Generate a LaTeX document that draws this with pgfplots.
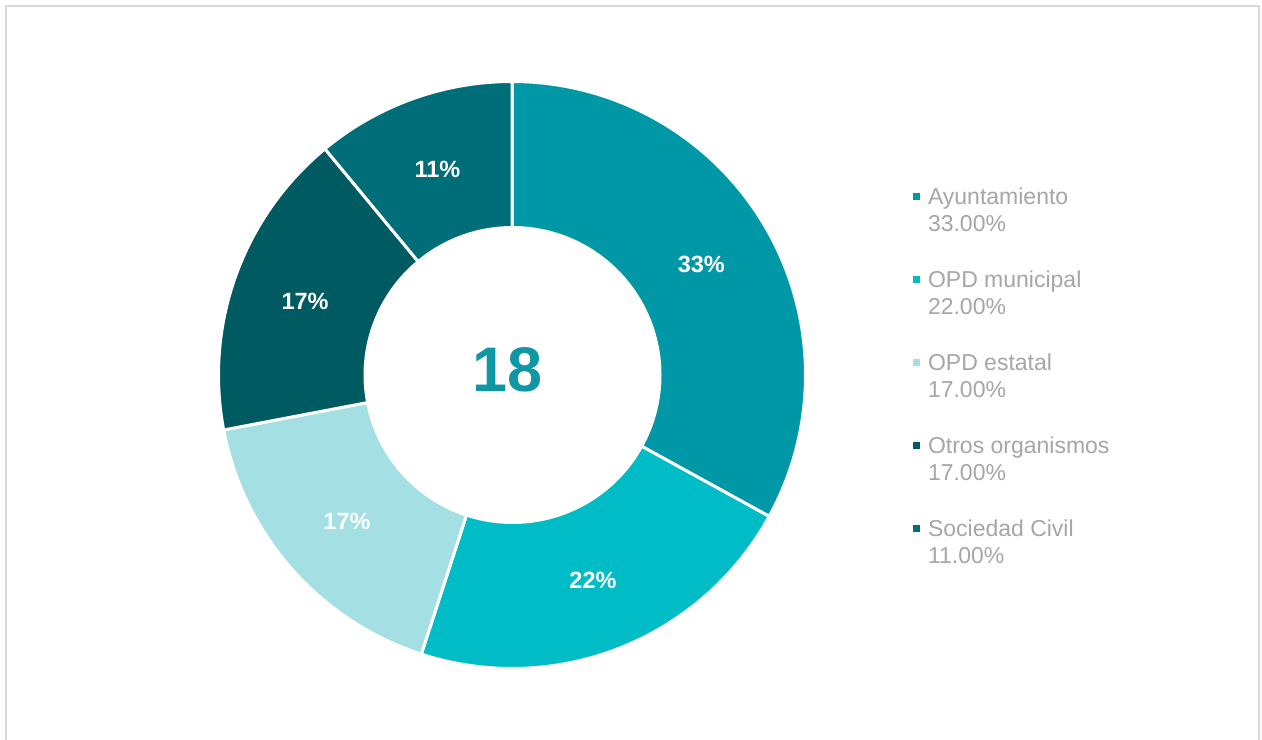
\documentclass[border=0pt]{standalone}
\usepackage{pgfplots}
\usepackage{pgfplotstable}
\pgfplotsset{compat=1.18}
\usepackage{fontspec}
\setmainfont{Liberation Sans}
\definecolor{cA}{HTML}{0098A6}
\definecolor{cB}{HTML}{00BCC6}
\definecolor{cC}{HTML}{A4E0E3}
\definecolor{cD}{HTML}{005A62}
\definecolor{cE}{HTML}{006E78}
\definecolor{centercol}{HTML}{1097A6}
\definecolor{leggray}{HTML}{A6A6A6}
\definecolor{framegray}{HTML}{D9D9D9}
\newcommand\labfont{\fontsize{23.5bp}{27bp}\selectfont\bfseries}
\newcommand\legtab[2]{\begin{tabular}[t]{@{}l@{}}#1\\#2\%\end{tabular}}
\pgfplotstableread[col sep=comma]{
label,value,color
Ayuntamiento,33,cA
OPD municipal,22,cB
OPD estatal,17,cC
Otros organismos,17,cD
Sociedad Civil,11,cE
}\piedata
\begin{document}
\begin{tikzpicture}
\begin{axis}[
  hide axis, scale only axis,
  width=1262bp, height=740bp,
  xmin=0, xmax=1262, ymin=0, ymax=740,
  legend cell align=left,
  legend image code/.code={\fill[#1,draw=none] (0bp,-3.5bp) rectangle (7bp,3.5bp);},
  legend style={draw=none, fill=none, inner sep=0pt, outer sep=0pt,
    at={(axis cs:913,554)}, anchor=north west,
    row sep=62.6bp,
    font=\fontsize{23bp}{27bp}\selectfont, text=leggray,
    nodes={inner sep=0pt, outer sep=0pt},
    /tikz/every odd column/.append style={column sep=8bp}},
]
\addplot[fill=white, draw=none, forget plot] coordinates {(0,0) (1262,0) (1262,740) (0,740)} -- cycle;
\addplot[draw=framegray, line width=2bp, forget plot] coordinates {(6,-20) (6,734) (1259,734) (1259,-20)};
\pgfmathsetmacro\start{90}
\pgfplotsforeachungrouped \i in {0,...,4}{
  \pgfplotstablegetelem{\i}{value}\of\piedata \let\wval\pgfplotsretval
  \pgfplotstablegetelem{\i}{color}\of\piedata \let\wcol\pgfplotsretval
  \pgfplotstablegetelem{\i}{label}\of\piedata \let\wlab\pgfplotsretval
  \pgfmathsetmacro\stop{\start-3.6*\wval}
  \pgfmathsetmacro\mid{(\start+\stop)/2}
  \pgfmathsetmacro\lx{512+220*cos(\mid)}
  \pgfmathsetmacro\ly{364+220*sin(\mid)}
  \edef\cmd{\noexpand\addplot[fill=\wcol, draw=white, line width=3bp, domain=\stop:\start, samples=120]
     ({512+293.5*cos(x)},{365+293.5*sin(x)}) -- (axis cs:512,365) -- cycle;
     \noexpand\addlegendentry{\noexpand\legtab{\wlab}{\wval.00}}
     \noexpand\node[text=white, font=\noexpand\labfont] at (axis cs:\lx,\ly) {\wval\noexpand\%};}
  \cmd
  \let\start\stop
}
\addplot[fill=white, draw=none, domain=0:360, samples=200, forget plot] ({512.5+149*cos(x)},{365+149*sin(x)}) -- cycle;
\node[text=centercol, font=\fontsize{63bp}{70bp}\selectfont\bfseries] at (axis cs:508,370) {18};
\end{axis}
\end{tikzpicture}
\end{document}
